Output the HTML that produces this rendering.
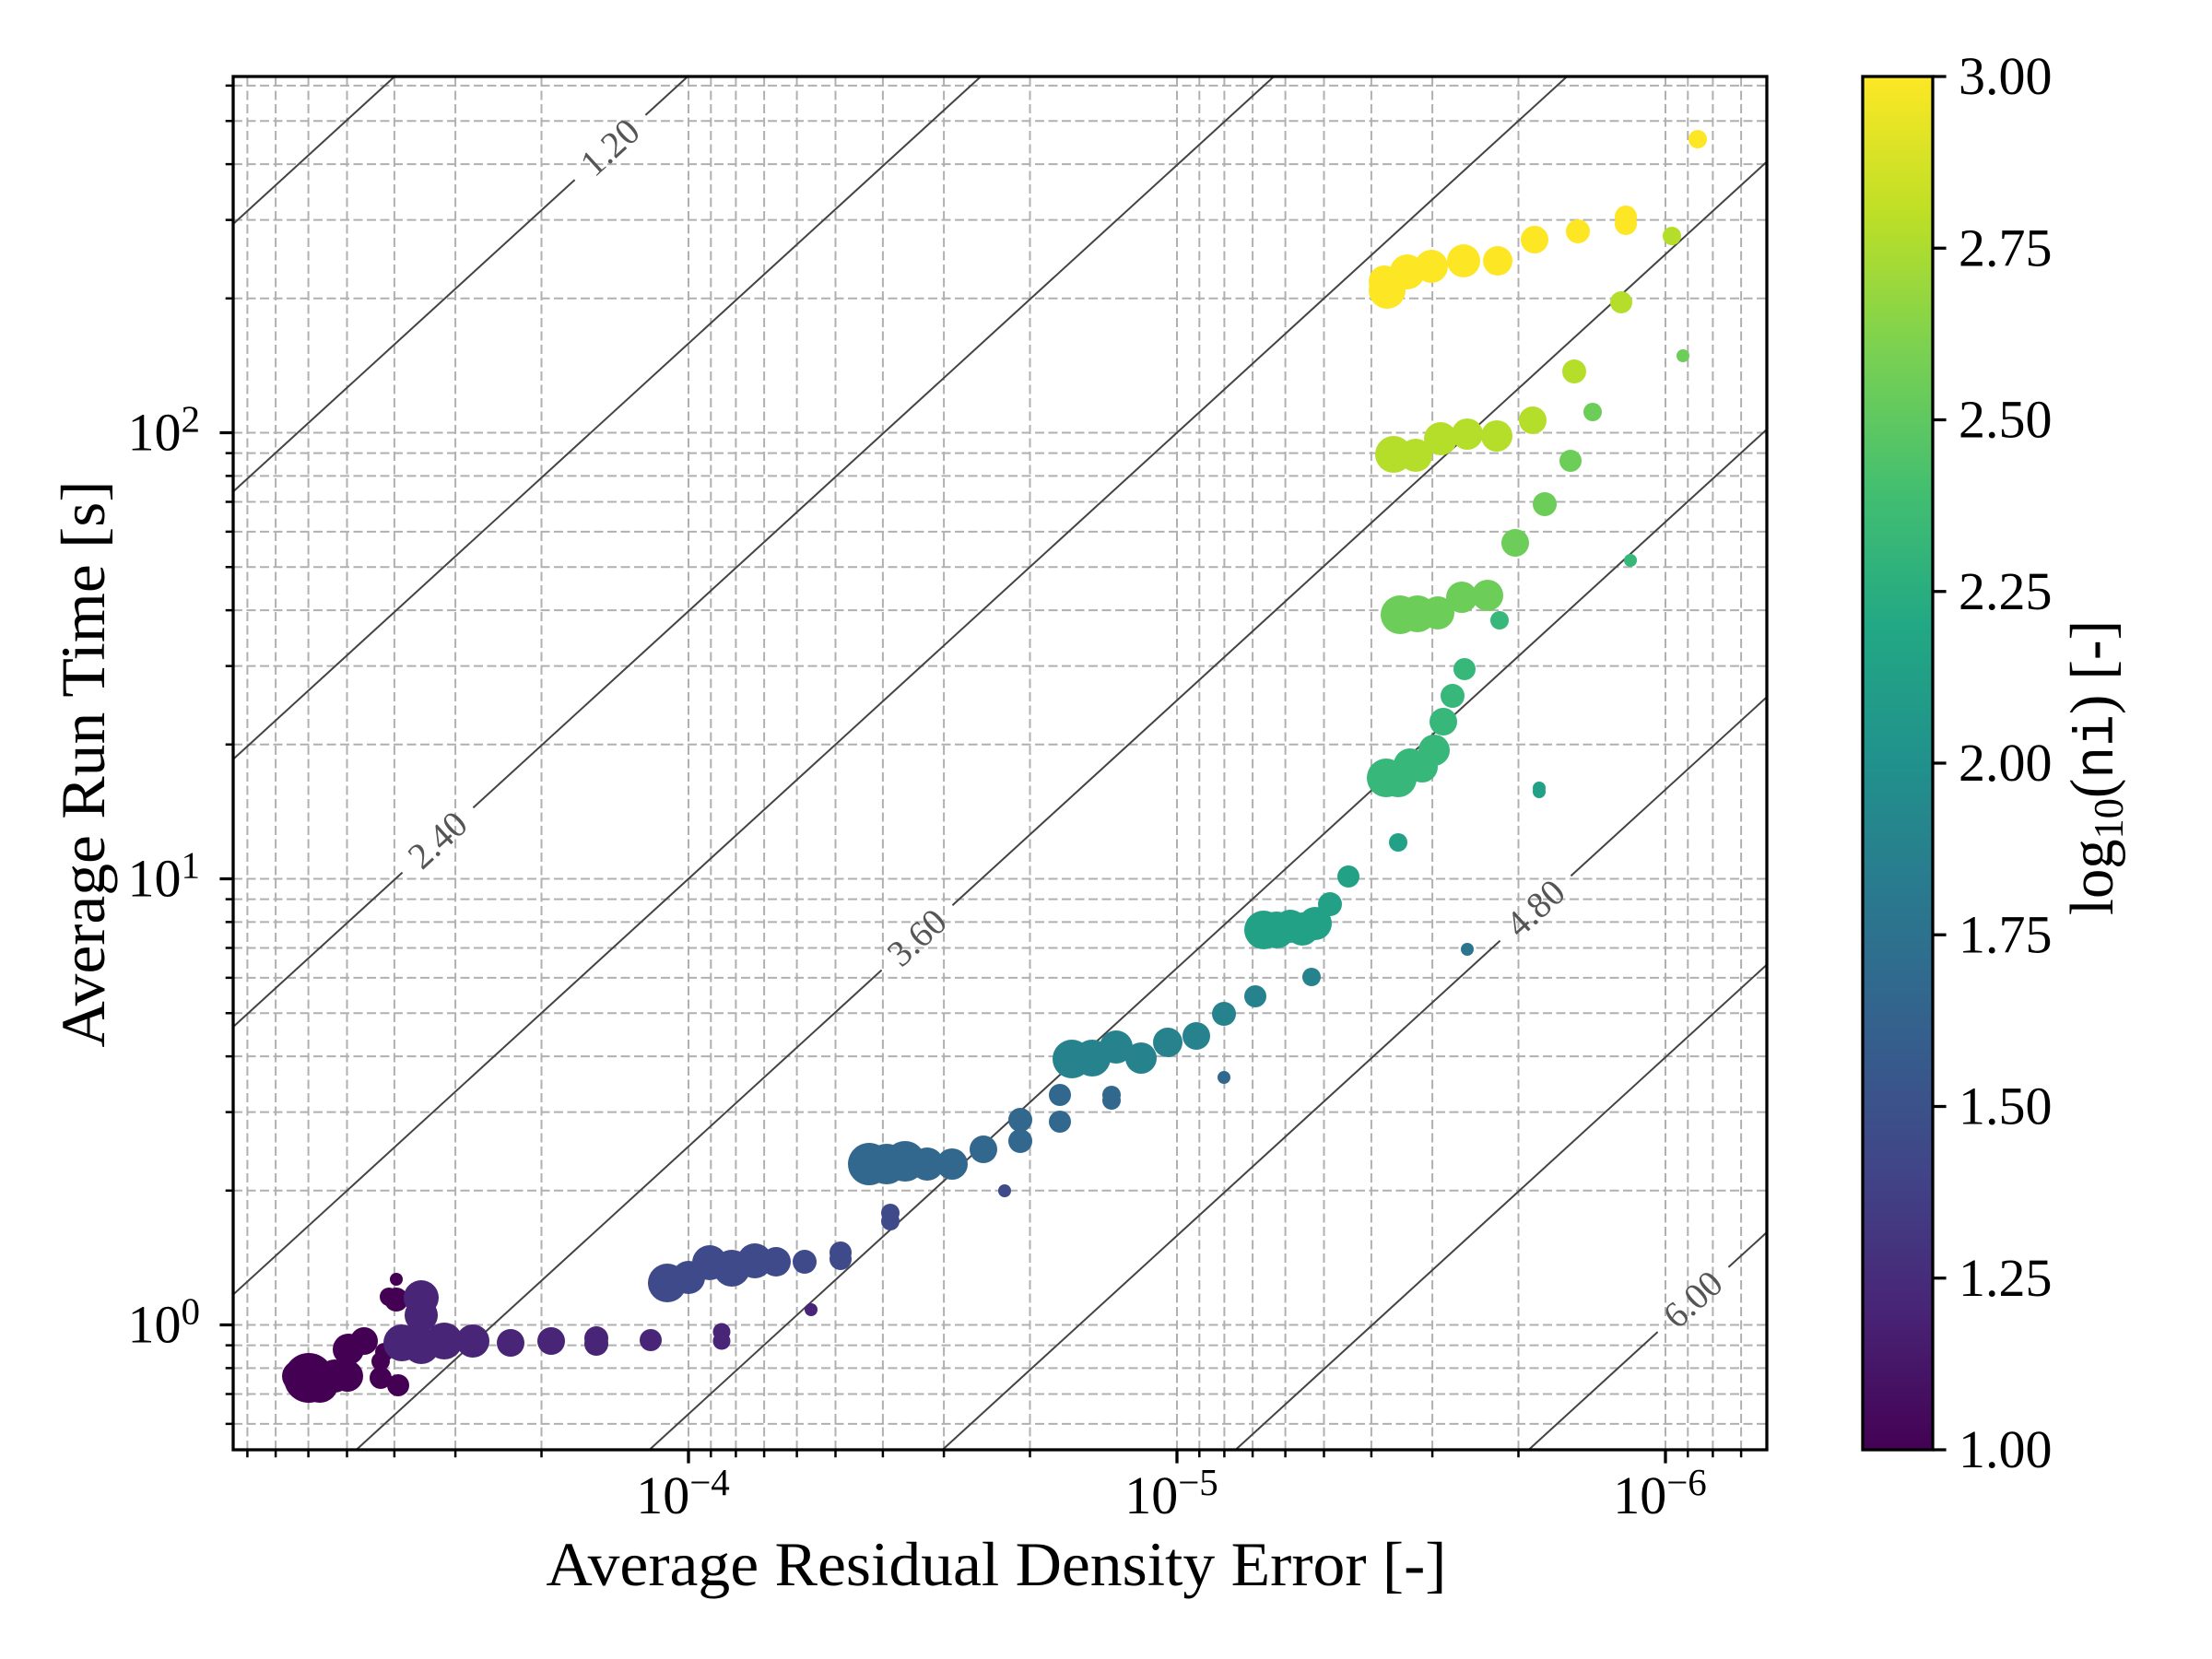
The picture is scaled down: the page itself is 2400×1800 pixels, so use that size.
<!DOCTYPE html>
<html><head><meta charset="utf-8"><style>html,body{margin:0;padding:0;background:#fff;width:2400px;height:1800px;overflow:hidden}svg{display:block}</style></head>
<body>
<svg xmlns="http://www.w3.org/2000/svg" width="2400" height="1800" viewBox="0 0 2400 1800">
<defs>
<linearGradient id="vir" x1="0" y1="1" x2="0" y2="0">
<stop offset="0" stop-color="#440154"/><stop offset="0.1" stop-color="#482475"/><stop offset="0.2" stop-color="#414487"/><stop offset="0.3" stop-color="#355f8d"/><stop offset="0.4" stop-color="#2a788e"/><stop offset="0.5" stop-color="#21918c"/><stop offset="0.6" stop-color="#22a884"/><stop offset="0.7" stop-color="#44bf70"/><stop offset="0.8" stop-color="#7ad151"/><stop offset="0.9" stop-color="#bddf26"/><stop offset="1" stop-color="#fde725"/>
</linearGradient>
</defs>
<rect width="2400" height="1800" fill="#fff"/>

<!-- grid -->
<g stroke="#b0b0b0" stroke-width="2" stroke-dasharray="10 4.5" fill="none">
<path d="M268.4 1573V83M299.1 1573V83M334.6 1573V83M376.5 1573V83M427.9 1573V83M494.1 1573V83M587.5 1573V83M747 1573V83M771.3 1573V83M798.4 1573V83M829.1 1573V83M864.6 1573V83M906.5 1573V83M957.9 1573V83M1024.1 1573V83M1117.5 1573V83M1277 1573V83M1301.3 1573V83M1328.4 1573V83M1359.1 1573V83M1394.6 1573V83M1436.5 1573V83M1487.9 1573V83M1554.1 1573V83M1647.5 1573V83M1807 1573V83M1831.3 1573V83M1858.4 1573V83M1889.1 1573V83"/>
<path d="M253 1544.9H1917M253 1512.5H1917M253 1484.4H1917M253 1459.6H1917M253 1437.5H1917M253 1291.8H1917M253 1206.6H1917M253 1146.1H1917M253 1099.2H1917M253 1060.9H1917M253 1028.5H1917M253 1000.4H1917M253 975.6H1917M253 953.5H1917M253 807.8H1917M253 722.6H1917M253 662.1H1917M253 615.2H1917M253 576.9H1917M253 544.5H1917M253 516.4H1917M253 491.6H1917M253 469.5H1917M253 323.8H1917M253 238.6H1917M253 178.1H1917M253 131.2H1917M253 92.9H1917"/>
</g>

<!-- contour lines -->
<g stroke="#444" stroke-width="2" fill="none">
<path d="M253 243L428.2 83"/>
<path d="M253 533.4L623.6 195.1M700.4 124.9L746.2 83"/>
<path d="M253 823.8L1064.2 83"/>
<path d="M253 1114.2L436.6 946.6M513.4 876.4L1382.2 83"/>
<path d="M253 1404.6L1700.2 83"/>
<path d="M386.6 1573L956.6 1052.5M1033.4 982.3L1917 175.45"/>
<path d="M704.6 1573L1917 465.85"/>
<path d="M1022.6 1573L1627.6 1020.6M1704.4 950.4L1917 756.25"/>
<path d="M1340.6 1573L1917 1046.65"/>
<path d="M1658.6 1573L1798.6 1445.1M1875.4 1374.9L1917 1337.05"/>
</g>
<g font-family="Liberation Serif, serif" font-size="40" fill="#555" text-anchor="middle">
<text transform="translate(662,160) rotate(-42.4)" y="13">1.20</text>
<text transform="translate(475,911.5) rotate(-42.4)" y="13">2.40</text>
<text transform="translate(995,1017.4) rotate(-42.4)" y="13">3.60</text>
<text transform="translate(1666,985.5) rotate(-42.4)" y="13">4.80</text>
<text transform="translate(1837,1410) rotate(-42.4)" y="13">6.00</text>
</g>

<!-- scatter -->
<g stroke="none">
<g fill="#440154">
<circle cx="335" cy="1495" r="27"/><circle cx="323" cy="1493" r="17"/><circle cx="347" cy="1502" r="20"/><circle cx="363" cy="1493" r="18"/><circle cx="377" cy="1493" r="17"/><circle cx="378" cy="1464" r="17"/><circle cx="395" cy="1455" r="15"/><circle cx="413" cy="1477" r="10"/><circle cx="413" cy="1495" r="12"/><circle cx="432" cy="1503" r="12"/><circle cx="417" cy="1467" r="10"/><circle cx="430" cy="1410" r="13"/><circle cx="422" cy="1407" r="10"/><circle cx="430" cy="1388" r="7"/>
</g>
<g fill="#482576">
<circle cx="436" cy="1457" r="20"/><circle cx="457" cy="1408" r="19"/><circle cx="457" cy="1427" r="18"/><circle cx="457" cy="1460" r="20"/><circle cx="482" cy="1455" r="20"/><circle cx="513" cy="1455" r="18"/><circle cx="554" cy="1457" r="15"/><circle cx="598" cy="1455" r="15"/><circle cx="647" cy="1452" r="13"/><circle cx="647" cy="1458" r="13"/><circle cx="706" cy="1454" r="12"/><circle cx="783" cy="1445" r="9.5"/><circle cx="783" cy="1455" r="9.5"/><circle cx="880" cy="1421" r="7"/>
</g>
<g fill="#3f4a8a">
<circle cx="724" cy="1392" r="21"/><circle cx="747" cy="1386" r="18"/><circle cx="770" cy="1370" r="19"/><circle cx="794" cy="1376" r="20"/><circle cx="819" cy="1368" r="19"/><circle cx="842" cy="1369" r="16"/><circle cx="873" cy="1369" r="13"/><circle cx="912" cy="1359" r="12"/><circle cx="912" cy="1366" r="12"/><circle cx="966" cy="1316" r="10"/><circle cx="966" cy="1325" r="10"/><circle cx="1090" cy="1292" r="7"/>
</g>
<g fill="#32688e">
<circle cx="943" cy="1263" r="23"/><circle cx="962" cy="1263" r="22"/><circle cx="982" cy="1260" r="22"/><circle cx="1006" cy="1263" r="18"/><circle cx="1033" cy="1263" r="17"/><circle cx="1067" cy="1247" r="15"/><circle cx="1107" cy="1215" r="13"/><circle cx="1107" cy="1238" r="13"/><circle cx="1150" cy="1188" r="12"/><circle cx="1150" cy="1217" r="12"/><circle cx="1206" cy="1188" r="10"/><circle cx="1206" cy="1194" r="10"/><circle cx="1328" cy="1169" r="7"/>
</g>
<g fill="#26838e">
<circle cx="1163" cy="1149" r="21"/><circle cx="1185" cy="1148" r="20"/><circle cx="1211" cy="1136" r="18"/><circle cx="1238" cy="1148" r="17"/><circle cx="1267" cy="1131" r="16"/><circle cx="1298" cy="1124" r="15"/><circle cx="1328" cy="1100" r="13"/><circle cx="1362" cy="1081" r="12"/><circle cx="1423" cy="1060" r="10"/>
</g>
<circle cx="1592" cy="1030" r="7" fill="#2a768e"/>
<g fill="#22a187">
<circle cx="1371" cy="1009" r="21"/><circle cx="1385" cy="1009" r="20"/><circle cx="1400" cy="1005" r="18"/><circle cx="1413" cy="1008" r="18"/><circle cx="1427" cy="1002" r="18"/><circle cx="1443" cy="981" r="13"/><circle cx="1463" cy="951" r="12"/><circle cx="1517" cy="914" r="10"/><circle cx="1670" cy="855" r="7"/><circle cx="1670" cy="859" r="7"/>
</g>
<g fill="#37b87a">
<circle cx="1504" cy="844" r="21"/><circle cx="1517" cy="845" r="20"/><circle cx="1530" cy="830" r="18"/><circle cx="1543" cy="832" r="17"/><circle cx="1556" cy="814" r="17"/><circle cx="1566" cy="783" r="15"/><circle cx="1576" cy="755" r="13"/><circle cx="1589" cy="726" r="12"/><circle cx="1627" cy="673" r="10"/><circle cx="1769" cy="608" r="7"/>
</g>
<g fill="#6dcd59">
<circle cx="1519" cy="667" r="21"/><circle cx="1538" cy="666" r="20"/><circle cx="1560" cy="665" r="18"/><circle cx="1586" cy="648" r="17"/><circle cx="1614" cy="646" r="17"/><circle cx="1644" cy="589" r="15"/><circle cx="1676" cy="547" r="13"/><circle cx="1704" cy="500" r="12"/><circle cx="1728" cy="447" r="10"/><circle cx="1826" cy="386" r="7"/>
</g>
<g fill="#b5de2b">
<circle cx="1512" cy="493" r="20"/><circle cx="1536" cy="494" r="18"/><circle cx="1563" cy="476" r="18"/><circle cx="1592" cy="471" r="17"/><circle cx="1624" cy="473" r="17"/><circle cx="1663" cy="456" r="15"/><circle cx="1708" cy="403" r="13"/><circle cx="1759" cy="328" r="12"/><circle cx="1814" cy="256" r="10"/>
</g>
<g fill="#fde725">
<circle cx="1505" cy="315" r="20"/><circle cx="1502" cy="305" r="17"/><circle cx="1527" cy="295" r="19"/><circle cx="1553" cy="289" r="18"/><circle cx="1588" cy="283" r="18"/><circle cx="1625" cy="283" r="16"/><circle cx="1665" cy="260" r="15"/><circle cx="1712" cy="251" r="13"/><circle cx="1764" cy="235" r="12"/><circle cx="1764" cy="243" r="12"/><circle cx="1842" cy="151" r="10"/>
</g>
</g>

<!-- spines -->
<rect x="253" y="83" width="1664" height="1490" fill="none" stroke="#000" stroke-width="3.3"/>

<!-- ticks -->
<g stroke="#000" stroke-width="3.3" fill="none">
<path d="M747 1573v14.6M1277 1573v14.6M1807 1573v14.6M253 1437.5h-14.6M253 953.5h-14.6M253 469.5h-14.6"/>
</g>
<g stroke="#000" stroke-width="2.5" fill="none">
<path d="M268.4 1573v8.3M299.1 1573v8.3M334.6 1573v8.3M376.5 1573v8.3M427.9 1573v8.3M494.1 1573v8.3M587.5 1573v8.3M771.3 1573v8.3M798.4 1573v8.3M829.1 1573v8.3M864.6 1573v8.3M906.5 1573v8.3M957.9 1573v8.3M1024.1 1573v8.3M1117.5 1573v8.3M1301.3 1573v8.3M1328.4 1573v8.3M1359.1 1573v8.3M1394.6 1573v8.3M1436.5 1573v8.3M1487.9 1573v8.3M1554.1 1573v8.3M1647.5 1573v8.3M1831.3 1573v8.3M1858.4 1573v8.3M1889.1 1573v8.3"/>
<path d="M253 1544.9h-8.3M253 1512.5h-8.3M253 1484.4h-8.3M253 1459.6h-8.3M253 1291.8h-8.3M253 1206.6h-8.3M253 1146.1h-8.3M253 1099.2h-8.3M253 1060.9h-8.3M253 1028.5h-8.3M253 1000.4h-8.3M253 975.6h-8.3M253 807.8h-8.3M253 722.6h-8.3M253 662.1h-8.3M253 615.2h-8.3M253 576.9h-8.3M253 544.5h-8.3M253 516.4h-8.3M253 491.6h-8.3M253 323.8h-8.3M253 238.6h-8.3M253 178.1h-8.3M253 131.2h-8.3M253 92.9h-8.3"/>
</g>

<!-- tick labels -->
<g font-family="Liberation Serif, serif" font-size="58" fill="#000">
<text x="217" y="1456.5" text-anchor="end">10<tspan font-size="41" dy="-20">0</tspan></text>
<text x="217" y="972.5" text-anchor="end">10<tspan font-size="41" dy="-20">1</tspan></text>
<text x="217" y="488.5" text-anchor="end">10<tspan font-size="41" dy="-20">2</tspan></text>
<text x="741" y="1642" text-anchor="middle">10<tspan font-size="41" dy="-20">−4</tspan></text>
<text x="1271" y="1642" text-anchor="middle">10<tspan font-size="41" dy="-20">−5</tspan></text>
<text x="1801" y="1642" text-anchor="middle">10<tspan font-size="41" dy="-20">−6</tspan></text>
</g>

<!-- axis labels -->
<g font-family="Liberation Serif, serif" font-size="68" fill="#000">
<text x="1081" y="1720" text-anchor="middle" textLength="977" lengthAdjust="spacingAndGlyphs">Average Residual Density Error [-]</text>
<text transform="translate(113,829) rotate(-90)" text-anchor="middle" textLength="615" lengthAdjust="spacingAndGlyphs">Average Run Time [s]</text>
</g>

<!-- colorbar -->
<rect x="2021" y="83" width="76" height="1490" fill="url(#vir)"/>
<rect x="2021" y="83" width="76" height="1490" fill="none" stroke="#000" stroke-width="3.3"/>
<g stroke="#000" stroke-width="3.3">
<path d="M2097 1573h14.6M2097 1386.75h14.6M2097 1200.5h14.6M2097 1014.25h14.6M2097 828h14.6M2097 641.75h14.6M2097 455.5h14.6M2097 269.25h14.6M2097 83h14.6"/>
</g>
<g font-family="Liberation Serif, serif" font-size="58" fill="#000">
<text x="2125" y="1592">1.00</text>
<text x="2125" y="1405.75">1.25</text>
<text x="2125" y="1219.5">1.50</text>
<text x="2125" y="1033.25">1.75</text>
<text x="2125" y="847">2.00</text>
<text x="2125" y="660.75">2.25</text>
<text x="2125" y="474.5">2.50</text>
<text x="2125" y="288.25">2.75</text>
<text x="2125" y="102">3.00</text>
</g>
<text transform="translate(2292,833) rotate(-90)" text-anchor="middle" font-family="Liberation Serif, serif" font-size="67" fill="#000" textLength="320" lengthAdjust="spacingAndGlyphs">log<tspan font-size="46" dy="11">10</tspan><tspan dy="-11">(</tspan><tspan font-family="Liberation Mono, monospace" font-size="60">ni</tspan>) [-]</text>
</svg>
</body></html>
